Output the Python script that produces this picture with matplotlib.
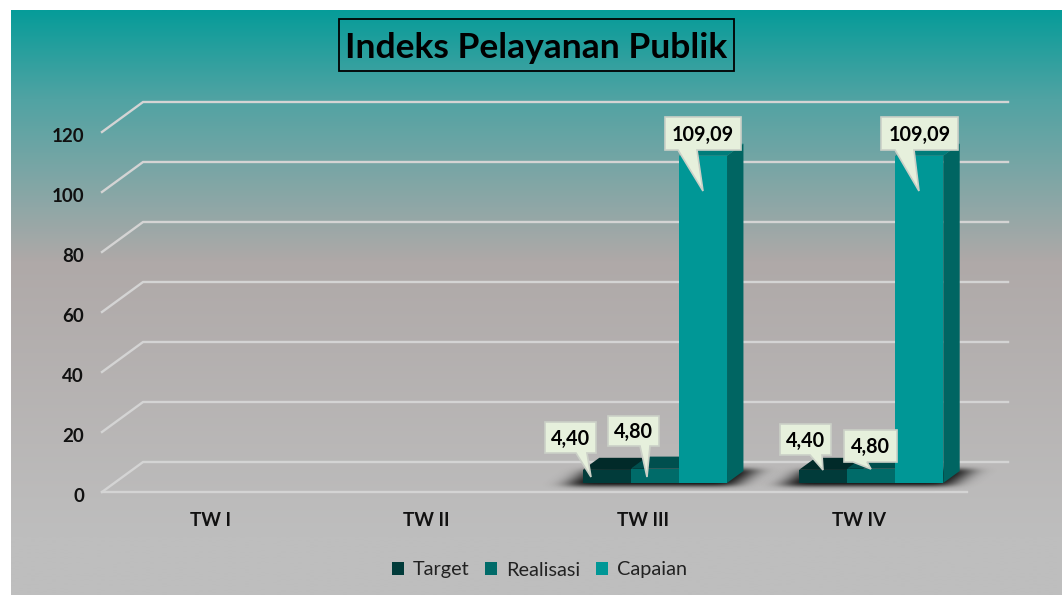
import numpy as np
import matplotlib
matplotlib.use('Agg')
import matplotlib.pyplot as plt
from matplotlib.colors import to_rgb
from matplotlib.patches import Polygon, Patch, Rectangle
from matplotlib.transforms import ScaledTranslation

# Data
categories = ['TW I', 'TW II', 'TW III', 'TW IV']
series_names = ['Target', 'Realisasi', 'Capaian']
target = [None, None, 4.40, 4.40]
realisasi = [None, None, 4.80, 4.80]
capaian = [None, None, 109.09, 109.09]
y_ticks = [0, 20, 40, 60, 80, 100, 120]

W, H = 1062, 595
plt.rcParams['font.family'] = ['Lato', 'DejaVu Sans']

fig = plt.figure(figsize=(W / 100, H / 100), dpi=100, facecolor='white')

# Gradient background
bg = fig.add_axes([11 / W, 0, 1 - 11 / W, 1 - 10 / H], zorder=0)
stops_pos = [0, 0.15, 0.43, 0.9, 1]
stops_col = ['#069C99', '#50A3A3', '#AFA9A8', '#BEBEBE', '#BEBEBE']
t = np.linspace(0, 1, 300)
rgb = np.array([to_rgb(c) for c in stops_col])
grad = np.stack([np.interp(t, stops_pos, rgb[:, i]) for i in range(3)], axis=1)[:, None, :]
bg.imshow(grad, aspect='auto', interpolation='bilinear')
bg.axis('off')

# Chart axes, front plane of the fake 3D box
ax = fig.add_axes([102 / W, (H - 492) / H, 865 / W, 360 / H], zorder=1)
ax.patch.set_alpha(0)
ax.set_xlim(0, 4)
ax.set_ylim(0, 120)
for s in ax.spines.values():
    s.set_visible(False)

DX, DY = 41 / 216, 10.0


def proj(x, v, d):
    return (x + DX * d, v + DY * d)


# Gridlines
grid_col = '#D4D4D4'
for v in y_ticks:
    pts = [proj(0, v, 0), proj(0, v, 1), proj(4, v, 1)]
    ax.plot(*zip(*pts), color=grid_col, lw=1.7, clip_on=False, solid_joinstyle='miter')
ax.plot(*zip(proj(0, 0, 0), proj(4, 0, 0)), color=grid_col, lw=1.7, clip_on=False)

ax.set_yticks(y_ticks)
ax.set_yticklabels([str(v) for v in y_ticks], fontsize=13.5, fontweight='bold', color='#111111')
ax.set_xticks(np.arange(4) + 0.5)
ax.set_xticklabels(categories, fontsize=13.5, fontweight='bold', color='#111111')
ax.tick_params(axis='y', length=0, pad=13)
ax.tick_params(axis='x', length=0, pad=14.5)
down = ScaledTranslation(0, -2 / 72, fig.dpi_scale_trans)
for lab in ax.get_yticklabels():
    lab.set_transform(lab.get_transform() + down)

# Bars
bar_w = 1 / 4.5
front_d, back_d = 0.3, 0.7
front_cols = ['#013B3A', '#006B69', '#009796']
side_cols = ['#012C2B', '#004E4D', '#006562']
top_cols = ['#012A29', '#004F4E', '#007C7A']
all_series = [target, realisasi, capaian]


def blur(a, sigma, axis):
    r = int(3 * sigma)
    k = np.exp(-0.5 * (np.arange(-r, r + 1) / sigma) ** 2)
    k /= k.sum()
    return np.apply_along_axis(lambda m: np.convolve(m, k, mode='same'), axis, a)


# soft floor shadow, footprint of each bar group blurred
for i, cat in enumerate(categories):
    if capaian[i] is None:
        continue
    x0 = i + 0.5 - 1.5 * bar_w
    x1 = i + 0.5 + 1.5 * bar_w
    xs = np.linspace(x0 - 0.3, x1 + 0.35, 240)
    vs = np.linspace(-3, 13, 48)
    xx, vv = np.meshgrid(xs, vs)
    dd = vv / DY
    xb = xx - dd * DX
    mask = ((xb > x0 - 0.06) & (xb < x1 + 0.05) & (dd > front_d - 0.10) & (dd < back_d + 0.08)).astype(float)
    alpha = blur(blur(mask, 9, 1), 2.2, 0) * 0.95
    img = np.zeros(alpha.shape + (4,))
    img[..., 3] = alpha
    ax.imshow(img, extent=(xs[0], xs[-1], vs[0], vs[-1]), origin='lower', aspect='auto',
              interpolation='bilinear', clip_on=False, zorder=2.5)
ax.set_xlim(0, 4)
ax.set_ylim(0, 120)

for j, values in enumerate(all_series):
    for i, val in enumerate(values):
        if val is None:
            continue
        x0 = i + 0.5 - 1.5 * bar_w + j * bar_w
        x1 = x0 + bar_w
        top = [proj(x0, val, front_d), proj(x1, val, front_d), proj(x1, val, back_d), proj(x0, val, back_d)]
        side = [proj(x1, 0, front_d), proj(x1, 0, back_d), proj(x1, val, back_d), proj(x1, val, front_d)]
        front = [proj(x0, 0, front_d), proj(x1, 0, front_d), proj(x1, val, front_d), proj(x0, val, front_d)]
        ax.add_patch(Polygon(top, closed=True, fc=top_cols[j], ec='none', clip_on=False, zorder=3 + j))
        ax.add_patch(Polygon(side, closed=True, fc=side_cols[j], ec='none', clip_on=False, zorder=3 + j))
        ax.add_patch(Polygon(front, closed=True, fc=front_cols[j], ec='none', clip_on=False, zorder=3 + j))

# Overlay in pixels for title and callouts
ov = fig.add_axes([0, 0, 1, 1], zorder=2)
ov.set_xlim(0, W)
ov.set_ylim(H, 0)
ov.axis('off')

ov.add_patch(Rectangle((339, 19), 395, 52, fc='none', ec='black', lw=1.3))
ov.text(536.5, 47.5, 'Indeks Pelayanan Publik', fontsize=25.5, fontweight='bold', ha='center', va='center', color='black')


def callout(box, base, tip, val):
    x0, y0, x1, y1 = box
    pts = [(x0, y0), (x1, y0), (x1, y1), (base[1], y1), tip, (base[0], y1), (x0, y1)]
    ov.add_patch(Polygon(pts, closed=True, fc='#E6F0DC', ec='#CBD0C7', lw=1.2, joinstyle='miter'))
    ov.text((x0 + x1) / 2, (y0 + y1) / 2 + 1, f'{val:.2f}'.replace('.', ','), fontsize=14.2,
            fontweight='bold', ha='center', va='center', color='black')


callout((545, 422, 596, 453), (576, 587), (591, 477), target[2])
callout((608, 416, 659, 446), (640, 650), (647, 477), realisasi[2])
callout((665, 117, 741, 150), (678, 697), (703, 191), capaian[2])
callout((780, 424, 831, 455), (810, 822), (823, 470), target[3])
callout((844, 430, 897, 462), (853, 867), (871, 469), realisasi[3])
callout((881, 117, 958, 150), (895, 914), (919, 191), capaian[3])

# Legend
handles = [Patch(fc=c, ec='none') for c in front_cols]
fig.legend(handles, series_names, loc='center', bbox_to_anchor=(539.5 / W, 1 - 570 / H), ncol=3, frameon=False,
           fontsize=14.3, labelcolor='#222222', handlelength=0.6, handleheight=0.6, handletextpad=0.45,
           columnspacing=0.8)

fig.savefig('out.png', dpi=100)
